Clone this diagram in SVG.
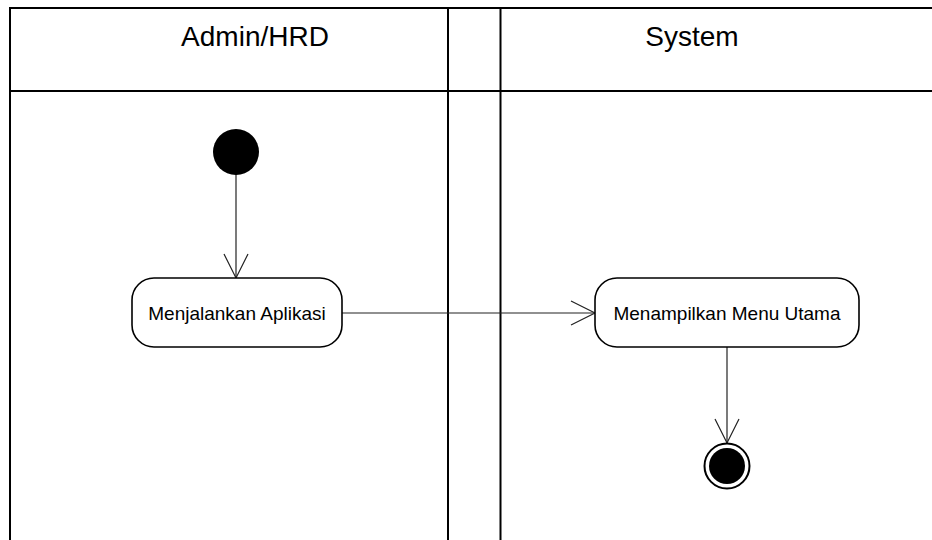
<svg xmlns="http://www.w3.org/2000/svg" width="932" height="540" viewBox="0 0 932 540">
  <defs>
    <style>
      .lane { fill: none; stroke: #000; stroke-width: 2; }
      .thin { fill: none; stroke: #222; stroke-width: 1.2; }
      .head { font-family: "Liberation Sans", Arial, sans-serif; font-size: 28px; fill: #000; text-anchor: middle; }
      .act rect { fill: #fff; stroke: #000; stroke-width: 1.6; }
      .act text { font-family: "Liberation Sans", Arial, sans-serif; font-size: 19px; fill: #000; text-anchor: middle; }
    </style>
    <marker id="open" markerWidth="28" markerHeight="28" refX="25" refY="13" orient="auto" markerUnits="userSpaceOnUse">
      <path d="M1,1 L25,13 L1,25" fill="none" stroke="#222" stroke-width="1.2"/>
    </marker>
  </defs>
  <rect width="932" height="540" fill="#fff"/>

  <!-- swimlane frame -->
  <g id="lanes">
    <line class="lane" x1="10" y1="8" x2="932" y2="8"/>
    <line class="lane" x1="10" y1="7" x2="10" y2="540"/>
    <line class="lane" x1="10" y1="91" x2="932" y2="91" stroke-width="1.5"/>
    <line class="lane" x1="448" y1="8" x2="448" y2="540"/>
    <line class="lane" x1="500.5" y1="8" x2="500.5" y2="540"/>
    <text class="head" x="255" y="46">Admin/HRD</text>
    <text class="head" x="692" y="46">System</text>
  </g>

  <!-- connectors -->
  <g id="connectors">
    <line class="thin" x1="236" y1="174" x2="236" y2="278" marker-end="url(#open)"/>
    <line class="thin" x1="342" y1="313" x2="595" y2="313" marker-end="url(#open)"/>
    <line class="thin" x1="727" y1="347" x2="727" y2="443" marker-end="url(#open)"/>
  </g>

  <g id="start">
    <circle cx="236" cy="152" r="23" fill="#000"/>
  </g>

  <g id="menjalankan" class="act">
    <rect x="132" y="278" width="210" height="69" rx="22" ry="22"/>
    <text x="237" y="320">Menjalankan Aplikasi</text>
  </g>

  <g id="menampilkan" class="act">
    <rect x="595" y="278" width="264" height="69" rx="22" ry="22"/>
    <text x="727" y="320">Menampilkan Menu Utama</text>
  </g>

  <g id="end">
    <circle cx="727" cy="466" r="22.5" fill="#fff" stroke="#000" stroke-width="2"/>
    <circle cx="727" cy="466" r="18" fill="#000"/>
  </g>
</svg>
